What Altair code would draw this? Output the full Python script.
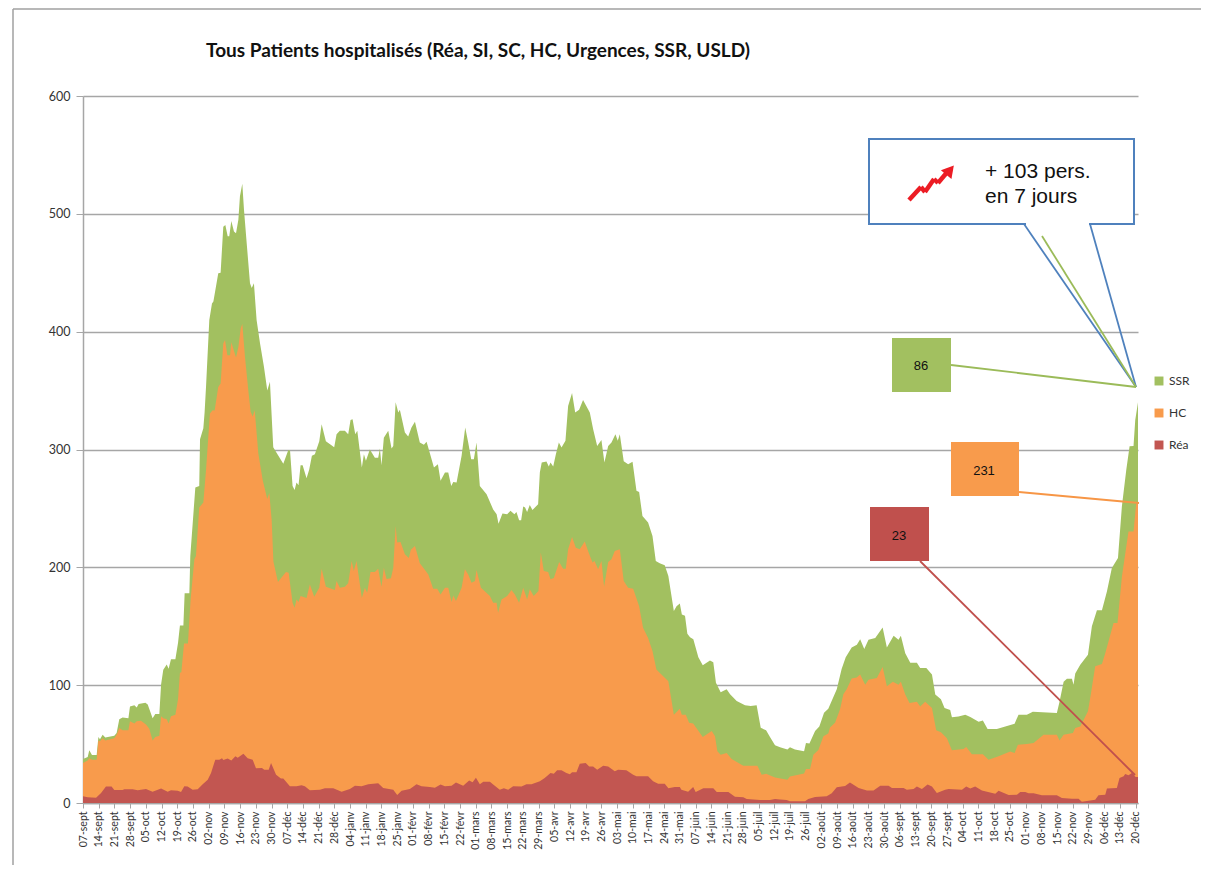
import altair as alt
import pandas as pd

tick_labels = ["07-sept","14-sept","21-sept","28-sept","05-oct","12-oct","19-oct","26-oct","02-nov","09-nov","16-nov","23-nov","30-nov",
"07-déc","14-déc","21-déc","28-déc","04-janv","11-janv","18-janv","25-janv","01-févr","08-févr","15-févr","22-févr",
"01-mars","08-mars","15-mars","22-mars","29-mars","05-avr","12-avr","19-avr","26-avr","03-mai","10-mai","17-mai","24-mai","31-mai",
"07-juin","14-juin","21-juin","28-juin","05-juil","12-juil","19-juil","26-juil","02-août","09-août","16-août","23-août","30-août",
"06-sept","13-sept","20-sept","27-sept","04-oct","11-oct","18-oct","25-oct","01-nov","08-nov","15-nov","22-nov","29-nov","06-déc","13-déc","20-déc"]

# (week since 07-sept, cumulative top of the stack)
ssr_top = [(0,37.4),(.30,39),(.40,44.8),(.57,40.8),(.87,40.8),(.98,56),(1.08,54),(1.25,58),(1.42,55.5),(1.99,57),(2.14,59.5),(2.31,71),(2.52,72.5),(2.89,72),(2.99,82),(3.27,83),(3.42,81),(3.54,84),(3.97,85),(4.12,83.5),(4.43,72),(4.60,75.6),(4.86,75.6),(4.97,100.5),(5.11,113),(5.33,117.5),(5.45,114),(5.60,122),(5.88,122),(6.05,136),(6.17,150.7),(6.39,150.7),(6.47,178),(6.77,178),(6.83,209.6),(7.15,267.7),(7.40,269),(7.45,308.8),(7.66,318),(7.74,331.4),(7.83,353),(8.04,410),(8.21,424),(8.30,425.5),(8.61,449.6),(8.76,450),(8.93,489),(9.06,490.6),(9.21,481),(9.31,481),(9.44,494),(9.61,485),(9.74,483.6),(9.89,495),(9.99,515),(10.14,525.5),(10.25,503),(10.42,475),(10.63,441),(10.74,437),(10.88,441),(11.05,410),(11.27,390),(11.52,370),(11.73,350),(11.90,357.5),(12.11,302),(12.33,297),(12.75,288),(13.07,299.5),(13.18,299),(13.34,269),(13.47,265.7),(13.59,272),(13.72,269.7),(13.85,286.7),(13.98,286.7),(14.23,275.6),(14.40,283),(14.57,294.6),(14.76,296),(15.04,307),(15.19,321.5),(15.46,307),(15.99,302),(16.14,313),(16.35,316),(16.67,316),(16.88,313),(17.03,325),(17.16,325.7),(17.33,313),(17.46,316),(17.63,297.5),(17.75,284.7),(17.88,296),(18.01,290.4),(18.26,300),(18.58,293),(18.79,293),(18.90,300.8),(19.00,286.7),(19.15,310),(19.43,316),(19.64,300.8),(19.75,303),(19.90,340),(20.07,331.4),(20.17,333.7),(20.49,314.4),(20.70,311),(20.91,318.7),(21.13,323.5),(21.44,306),(21.70,304),(21.87,306.5),(22.34,284.7),(22.59,287.5),(22.76,273.4),(23.04,280.5),(23.25,280.5),(23.44,269),(23.57,272.5),(23.78,272),(24.10,294.6),(24.33,318.7),(24.52,306),(24.71,291.8),(24.88,291.8),(25.05,306),(25.26,269),(25.69,262),(26.11,249),(26.33,245),(26.45,237),(26.70,245.6),(27.00,245),(27.21,248),(27.46,245),(27.59,247),(27.76,240),(27.89,240),(28.02,251.6),(28.14,250.7),(28.27,247),(28.44,253),(28.61,248.7),(28.97,253.5),(29.08,280.5),(29.20,289),(29.50,289.8),(29.65,285.6),(29.76,289),(29.93,285.6),(30.10,296),(30.29,306),(30.46,301.7),(30.71,307.4),(30.88,337),(31.13,347.9),(31.33,331.4),(31.58,333.7),(31.83,342),(32.26,331.4),(32.47,317.3),(32.73,303),(33.00,308),(33.19,289),(33.43,303),(33.64,305.9),(33.89,313),(34.04,307.4),(34.17,313),(34.42,290),(34.70,287.5),(34.98,289.5),(35.23,264.9),(35.40,264),(35.61,243.6),(35.97,238),(36.25,226.6),(36.46,205.4),(36.71,203.4),(37.03,201.7),(37.26,192.6),(37.61,162.9),(37.78,167),(37.99,169.4),(38.12,160),(38.32,159),(38.47,143.6),(38.64,140.7),(38.85,139),(39.17,123.6),(39.45,117),(39.91,121),(40.12,119.4),(40.29,102),(40.59,94),(40.97,96.6),(41.19,92.3),(41.61,86.6),(42.14,82.9),(42.50,82.3),(42.88,82.9),(43.14,63.8),(43.48,61.8),(43.73,56),(44.05,49),(44.37,47.3),(44.84,45.3),(45.00,47.3),(45.32,45.3),(45.90,43.9),(46.02,51),(46.24,50.4),(46.60,61),(46.87,65),(47.17,76.6),(47.44,80),(47.98,96.6),(48.29,113.7),(48.55,123.6),(48.93,132),(49.26,134.4),(49.47,139),(49.73,130.7),(50.00,138.6),(50.43,140),(50.90,149),(51.17,132),(51.60,142),(51.91,138.6),(52.06,142),(52.34,127),(52.66,119),(53.08,119),(53.29,114.6),(53.68,114.6),(54.04,109),(54.25,92),(54.61,88),(54.84,80.6),(55.20,79),(55.31,72.7),(55.73,73.5),(56.16,75),(56.48,73),(57.01,69),(57.28,70),(57.58,62.8),(58.17,62.8),(58.60,64.5),(59.30,67.3),(59.55,75),(60.08,75),(60.46,77.5),(61.99,76.4),(62.16,86),(62.42,103),(62.63,105.5),(62.95,105.5),(63.05,100.4),(63.16,110),(63.48,117.4),(63.97,125.9),(64.22,150),(64.54,163.5),(64.86,163.5),(65.18,179.6),(65.49,199.4),(65.88,208),(66.13,251.8),(66.41,282.9),(66.62,302.7),(66.87,303),(66.98,325),(67.155,340)]

hc_top = [(0,34),(.30,36),(.40,38),(.57,36.8),(.87,36.8),(.98,53),(1.08,52.4),(1.25,55),(1.42,53),(1.99,55),(2.14,58),(2.31,63.7),(2.52,61.8),(2.89,61.8),(2.99,69.4),(3.27,67.4),(3.42,69.4),(3.69,69.7),(4.01,66.6),(4.22,63),(4.43,53),(4.60,56),(4.86,57),(4.97,73.7),(5.11,72),(5.33,71),(5.45,67.4),(5.60,73.7),(5.88,75),(6.05,88),(6.17,110.5),(6.26,111),(6.43,135.4),(6.68,135.4),(6.85,172.8),(7.09,206.8),(7.19,209.6),(7.40,250.7),(7.66,255),(7.83,282.4),(8.08,330.6),(8.25,333.4),(8.38,333),(8.61,353),(8.76,356),(8.93,390),(9.04,393),(9.19,380),(9.36,380),(9.44,391),(9.74,378),(9.89,387),(10.04,403),(10.14,406.5),(10.31,378.7),(10.52,350.4),(10.67,332),(10.80,328),(10.93,333.4),(11.16,296.6),(11.44,274),(11.73,258),(11.86,263),(12.01,240),(12.12,205),(12.41,187.5),(12.92,196),(13.09,195.5),(13.34,170),(13.47,165.7),(13.59,172.8),(13.72,170.5),(13.85,175.6),(14.23,174),(14.44,185.5),(14.72,175),(15.04,182.7),(15.19,198.9),(15.46,183.6),(16.03,180.7),(16.14,188.4),(16.35,182.7),(16.67,183.6),(16.88,186.4),(17.10,205.4),(17.24,196.9),(17.41,205.4),(17.75,174),(17.94,182.7),(18.09,178.5),(18.30,196),(18.58,196),(18.79,198.9),(19.00,183.6),(19.15,199.7),(19.32,190),(19.60,190.7),(19.75,199.7),(19.90,235),(20.00,221),(20.21,221.5),(20.49,211),(20.74,208),(20.87,215),(21.13,218),(21.44,203.4),(21.66,199.7),(21.98,194),(22.29,181.9),(22.55,181.9),(22.76,177),(23.04,182.7),(23.25,182.7),(23.46,170.5),(23.57,176),(23.74,171.4),(24.10,182.7),(24.31,198.3),(24.52,194),(24.73,187),(24.95,188.4),(25.05,197.7),(25.33,182.7),(25.90,175.6),(26.11,170),(26.33,170),(26.42,161.5),(26.64,172.8),(27.00,175.6),(27.27,180.7),(27.49,177),(27.76,170),(28.02,182.7),(28.27,172.8),(28.44,181.3),(28.69,175.6),(28.99,180),(29.14,212.5),(29.33,196.9),(29.61,196),(29.76,189.8),(29.97,191),(30.31,204.5),(30.56,198.9),(30.73,198.9),(30.88,215.3),(31.13,225.8),(31.37,216.7),(31.62,215.3),(31.94,222),(32.15,213.9),(32.43,204),(32.56,205.4),(32.79,198.3),(33.00,205.4),(33.17,183.6),(33.43,204.5),(33.64,206.8),(33.85,213.9),(34.17,215.3),(34.42,188.4),(34.70,182.7),(35.02,181.9),(35.40,167),(35.65,148.7),(35.97,140),(36.25,128.9),(36.50,113.3),(36.82,109),(37.26,103.4),(37.61,75),(37.99,79.9),(38.12,75),(38.37,75),(38.58,68),(38.84,67.4),(39.45,56),(40.02,61),(40.23,56.7),(40.38,43.9),(40.59,41),(40.97,42.5),(41.29,37.3),(42.03,31.6),(42.93,31.6),(43.20,24),(43.48,24.8),(44.05,21.7),(44.84,19.7),(45.00,22.5),(45.90,25),(46.02,28.8),(46.28,28.8),(46.49,41),(46.81,45),(47.13,56.7),(47.44,59),(47.55,64),(47.87,68),(48.19,79.5),(48.40,92.3),(48.61,96.6),(48.93,105.7),(49.25,106.6),(49.47,109),(49.79,100.4),(50.00,104.7),(50.53,106),(50.90,115.4),(51.17,99),(51.55,103),(51.91,100.4),(52.06,103),(52.34,92),(52.61,84.9),(53.08,86),(53.29,82),(53.61,86),(54.04,80.6),(54.31,61.7),(54.61,60),(54.99,55),(55.31,44.7),(56.05,45.8),(56.22,47.5),(56.58,41.3),(57.28,41.3),(57.64,36.8),(58.28,39.6),(59.02,43.8),(59.30,42.4),(59.51,49.5),(60.08,50),(60.51,50.9),(61.14,58),(61.99,58),(62.16,53),(62.42,58),(63.01,59.4),(63.16,63.6),(63.48,65),(63.97,77.8),(64.16,93),(64.43,116),(64.86,118),(65.07,127),(65.60,152.8),(65.85,152.8),(66.13,192),(66.55,230.5),(66.87,230.5),(67.04,254),(67.155,254)]

rea_top = [(0,5.7),(.30,4.8),(.83,4.5),(1.15,8.5),(1.46,13.9),(1.82,13.9),(1.99,11),(2.52,11),(2.63,11.6),(3.16,11.6),(3.48,10.8),(4.01,11.9),(4.43,9.6),(4.97,12.2),(5.39,9.6),(5.60,10.8),(6.03,10.5),(6.24,9.3),(6.45,14.2),(6.66,13.9),(6.98,11.3),(7.30,11.6),(7.62,16),(7.94,19.8),(8.15,25.5),(8.42,36.8),(8.68,36.8),(8.85,38),(8.93,36.5),(9.21,37.7),(9.44,36),(9.70,39.7),(9.85,38.5),(10.21,41.9),(10.48,38),(10.80,36.8),(11.01,29.5),(11.39,29.7),(11.54,28.3),(11.82,28.3),(11.97,34),(12.29,24),(12.60,20.7),(12.75,20.7),(13.17,14.2),(13.59,14.2),(13.91,15),(14.12,14.2),(14.44,10.8),(15.08,11.3),(15.40,12.5),(15.93,12.5),(16.46,9.6),(16.99,11.9),(17.31,14.7),(17.73,14.2),(18.16,16),(18.79,16.7),(19.11,12.7),(19.75,11.3),(20.00,6.8),(20.28,10.5),(20.81,11.9),(21.23,15.9),(21.55,14.2),(22.08,13.6),(22.40,13),(22.76,15.6),(23.04,14.2),(23.46,14.7),(23.74,17.3),(24.20,14.7),(24.58,19),(24.80,17.6),(25.01,21.5),(25.26,16),(25.48,18),(25.90,18),(26.11,15.6),(26.53,11.3),(26.79,12.5),(27.06,11.3),(27.38,14.2),(27.91,13.9),(28.23,16),(28.55,16),(29.08,18.4),(29.39,21.2),(29.76,25.5),(29.97,24.9),(30.18,27.8),(30.46,27.8),(30.77,25.5),(30.99,24.4),(31.13,26),(31.41,26),(31.62,33.4),(32.00,34),(32.22,31),(32.47,31),(32.73,28.3),(33.11,31.7),(33.43,31),(33.85,26.9),(34.06,28.3),(34.59,27.8),(35.02,24),(35.23,22.7),(35.97,22.7),(36.29,18.4),(36.61,16.4),(37.03,16.4),(37.26,12.5),(37.67,13.6),(37.99,13.6),(38.09,11.3),(38.52,9.6),(38.84,13.6),(39.00,9.4),(39.49,12.5),(40.12,12.5),(40.34,9.4),(41.08,9.4),(41.50,5.4),(42.03,4.8),(42.25,3.4),(43.10,2.6),(43.73,2.6),(44.05,3.4),(44.37,3),(44.79,2.6),(45.00,1.4),(45.96,1.4),(46.17,3.4),(46.60,5),(47.34,5.7),(47.66,8.3),(47.98,13.4),(48.51,14.5),(48.82,17.4),(49.37,12.7),(49.90,10.7),(50.32,10.7),(50.75,14.7),(51.28,14.7),(51.49,12.7),(52.23,12.7),(52.44,11.3),(52.87,11.9),(53.08,14),(53.40,11.9),(53.76,15.8),(54.04,14),(54.35,8.5),(54.88,11.3),(55.10,11.9),(55.95,11.3),(56.22,13.9),(56.48,12.4),(56.79,13.9),(57.22,10.7),(58.07,7.9),(58.28,10.5),(58.92,6.8),(59.45,7),(59.66,9.3),(59.98,9.3),(60.19,8.2),(60.51,8.2),(61.04,6.5),(61.99,6.5),(62.31,4.2),(62.95,3.7),(63.37,3.7),(63.58,1.1),(64.01,2),(64.43,2.8),(64.64,6.5),(65.07,7),(65.18,12.2),(65.81,12.7),(65.98,21.2),(66.24,22.6),(66.34,24.6),(66.55,23.5),(66.77,25.5),(67.00,22),(67.155,22)]

series_names = ["SSR", "HC", "Réa"]
series_colors = ["#A2C060", "#F89B4C", "#C25651"]
GREY = "#A6A6A6"

rows = []
for name, pts in zip(series_names, [ssr_top, hc_top, rea_top]):
    rows += [{"week": w, "cumul": v, "serie": name} for w, v in pts]
df = pd.DataFrame(rows)

label_expr = "[" + ",".join("'" + t + "'" for t in tick_labels) + "][datum.value]"

areas = alt.Chart(df).mark_area(interpolate="linear", opacity=1).encode(
    x=alt.X("week:Q", scale=alt.Scale(domain=[0, 67.155], nice=False, zero=False),
            axis=alt.Axis(values=list(range(68)), labelExpr=label_expr, labelAngle=270, labelAlign="right",
                          labelBaseline="middle", labelFontSize=10.5, labelFont="Lato",
                          labelColor="#333333", labelOverlap=False, labelPadding=3, tickSize=5, tickColor=GREY,
                          domainColor=GREY, domainWidth=1.5, grid=False, title=None)),
    y=alt.Y("cumul:Q", stack=None, scale=alt.Scale(domain=[0, 600], nice=False),
            axis=alt.Axis(values=[0, 100, 200, 300, 400, 500, 600], labelFontSize=12.5, labelFont="Lato",
                          labelColor="#333333", labelPadding=6, tickSize=7, tickColor=GREY, domainColor=GREY,
                          domainWidth=1.5, grid=True, gridColor=GREY, gridWidth=1.5, title=None)),
    color=alt.Color("serie:N", sort=series_names, scale=alt.Scale(domain=series_names, range=series_colors),
                    legend=alt.Legend(orient="none", legendX=1070, legendY=279, title=None, symbolType="square",
                                      symbolSize=80, symbolStrokeWidth=0, labelFontSize=12,
                                      labelFont="Lato", labelColor="#333333", rowPadding=20)),
)

one = alt.Data(values=[{"k": 1}])
OX, OY = 83, 96  # plot origin on the page


def seg(x1, y1, x2, y2, color, w=1.5):
    return alt.Chart(one).mark_rule(color=color, strokeWidth=w).encode(
        x=alt.value(x1 - OX), x2=alt.value(x2 - OX), y=alt.value(y1 - OY), y2=alt.value(y2 - OY))


def box(x1, y1, x2, y2, fill, stroke=None, w=0):
    kw = {"stroke": stroke, "strokeWidth": w} if stroke else {}
    return alt.Chart(one).mark_rect(fill=fill, **kw).encode(
        x=alt.value(x1 - OX), x2=alt.value(x2 - OX), y=alt.value(y1 - OY), y2=alt.value(y2 - OY))


def txt(x, y, s, size, align="center", color="#111111", font="Liberation Sans", weight="normal"):
    return alt.Chart(one).mark_text(text=s, fontSize=size, align=align, baseline="alphabetic", color=color,
                                    font=font, fontWeight=weight).encode(x=alt.value(x - OX), y=alt.value(y - OY))


BLUE = "#4F81BD"
RED = "#EC1C24"
layers = [
    areas,
    # frame of the picture
    seg(13, 9, 13, 865, "#A0A0A0"),
    seg(13, 9, 1201, 9, "#A0A0A0"),
    # title
    txt(478, 57, "Tous Patients hospitalisés (Réa, SI, SC, HC, Urgences, SSR, USLD)", 19, weight="bold",
        color="#111111", font="Lato"),
    # callout
    box(869, 139, 1134, 224, "white", BLUE, 2),
    seg(1026, 224, 1089, 224, "white", 3),
    seg(1024, 224, 1136, 387, BLUE, 1.8),
    seg(1090, 224, 1136, 387, BLUE, 1.8),
    txt(985, 178, "+ 103 pers.", 21, align="left"),
    txt(985, 203, "en 7 jours", 21, align="left"),
    # rising arrow icon
    seg(909, 200, 921, 187, RED, 4.5),
    seg(921, 187, 925, 192, RED, 4.5),
    seg(925, 192, 934, 179, RED, 4.5),
    seg(934, 179, 938, 183, RED, 4.5),
    seg(938, 183, 949, 170, RED, 4.5),
    alt.Chart(one).mark_point(shape="triangle-up", filled=True, color=RED, size=190, opacity=1, angle=40).encode(
        x=alt.value(950 - OX), y=alt.value(170 - OY)),
    # value boxes and leaders
    seg(1042, 236, 1136, 387, "#9BBB59", 1.8),
    seg(951, 365, 1136, 387, "#9BBB59", 1.8),
    box(892, 338, 951, 392, series_colors[0]),
    txt(921, 370, "86", 13),
    seg(1019, 492, 1139, 503, "#F79646", 1.8),
    box(951, 442, 1019, 496, series_colors[1]),
    txt(984, 475, "231", 13),
    seg(920, 561, 1135, 775, "#C0504D", 1.8),
    box(870, 507, 929, 561, "#C0504D"),
    txt(899, 540, "23", 13),
]

chart = alt.layer(*layers).properties(
    width=1055, height=707,
    padding={"left": 75, "top": 88, "right": 63, "bottom": 62},
    autosize=alt.AutoSizeParams(type="none"),
    background="white",
).configure_view(stroke=None)

chart.save("out.html", embed_options={"renderer": "svg", "actions": False})
